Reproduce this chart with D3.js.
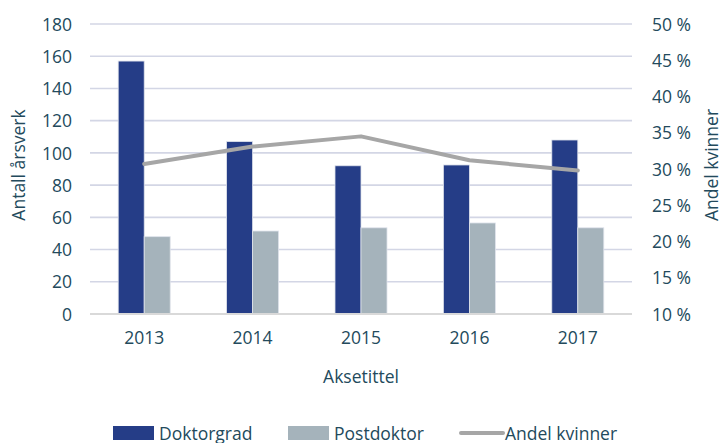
<!DOCTYPE html>
<html>
<head>
<meta charset="utf-8">
<script src="https://cdn.jsdelivr.net/npm/d3@7"></script>
<style>
  body { margin: 0; background: #fff; }
  text { font-family: "Open Sans", sans-serif; fill: #234a5c; }
</style>
</head>
<body>
<div id="chart"></div>
<script>
// data
let years = ["2013", "2014", "2015", "2016", "2017"];
let doktorgrad = [157, 107, 92, 92.5, 108];
let postdoktor = [48, 51.5, 53.5, 56.5, 53.5];
let andelKvinner = [30.7, 33.1, 34.5, 31.2, 29.8];
let leftTicks = [0, 20, 40, 60, 80, 100, 120, 140, 160, 180];
let rightTicks = [10, 15, 20, 25, 30, 35, 40, 45, 50];

let w = 722;
let h = 443;
let padL = 90, padR = 632, padT = 24, padB = 314;

let svg = d3.select("#chart")
  .append("svg")
  .attr("width", w)
  .attr("height", h);

let x = d3.scaleBand().domain(years).range([padL, padR]);
let y = d3.scaleLinear().domain([0, 180]).range([padB, padT]);
let y2 = d3.scaleLinear().domain([10, 50]).range([padB, padT]);

// gridlines
svg.append("g")
  .selectAll("line")
  .data(leftTicks.filter(d => d > 0))
  .join("line")
    .attr("x1", padL)
    .attr("x2", padR)
    .attr("y1", d => y(d))
    .attr("y2", d => y(d))
    .style("stroke", "#d3d6e5")
    .style("stroke-width", 1.6);

// left axis
let yAxis = svg.append("g")
  .attr("transform", `translate(${padL},0)`)
  .call(d3.axisLeft(y).tickValues(leftTicks).tickSize(0).tickPadding(18));
yAxis.select(".domain").remove();
yAxis.selectAll("text").style("font-size", "17.5px").attr("dy", "0.35em");

// right axis
let y2Axis = svg.append("g")
  .attr("transform", `translate(${padR},0)`)
  .call(d3.axisRight(y2).tickValues(rightTicks).tickSize(0).tickPadding(20).tickFormat(d => d + " %"));
y2Axis.select(".domain").remove();
y2Axis.selectAll("text").style("font-size", "17.5px").attr("dy", "0.35em");

// bars
let bw = 26;
svg.append("g")
  .selectAll("rect")
  .data(years)
  .join("rect")
    .attr("x", d => x(d) + x.bandwidth() / 2 - bw)
    .attr("y", (d, i) => y(doktorgrad[i]))
    .attr("width", bw)
    .attr("height", (d, i) => y(0) - y(doktorgrad[i]))
    .style("fill", "#253d87")
    .style("stroke", "#dfe3ec")
    .style("stroke-width", 0.8);

svg.append("g")
  .selectAll("rect")
  .data(years)
  .join("rect")
    .attr("x", d => x(d) + x.bandwidth() / 2)
    .attr("y", (d, i) => y(postdoktor[i]))
    .attr("width", bw)
    .attr("height", (d, i) => y(0) - y(postdoktor[i]))
    .style("fill", "#a5b3bb")
    .style("stroke", "#dfe3ec")
    .style("stroke-width", 0.8);

// baseline
svg.append("line")
  .attr("x1", padL)
  .attr("x2", padR)
  .attr("y1", y(0))
  .attr("y2", y(0))
  .style("stroke", "#d9d9d9")
  .style("stroke-width", 2);

// x axis labels
let xAxis = svg.append("g")
  .attr("transform", `translate(0,${padB})`)
  .call(d3.axisBottom(x).tickSize(0).tickPadding(18));
xAxis.select(".domain").remove();
xAxis.selectAll("text").style("font-size", "17.5px");

// line
let line = d3.line()
  .x((d, i) => x(years[i]) + x.bandwidth() / 2)
  .y(d => y2(d));

svg.append("path")
  .datum(andelKvinner)
  .attr("d", line)
  .style("fill", "none")
  .style("stroke", "#a6a6a6")
  .style("stroke-width", 4)
  .style("stroke-linecap", "round")
  .style("stroke-linejoin", "round");

// axis titles
svg.append("text")
  .text("Aksetittel")
  .attr("x", (padL + padR) / 2)
  .attr("y", 383)
  .attr("text-anchor", "middle")
  .style("font-size", "17.5px");

svg.append("text")
  .text("Antall årsverk")
  .attr("transform", `translate(25,${(padT + padB) / 2 - 4}) rotate(-90)`)
  .attr("text-anchor", "middle")
  .style("font-size", "17.5px");

svg.append("text")
  .text("Andel kvinner")
  .attr("transform", `translate(718,${(padT + padB) / 2 - 4}) rotate(-90)`)
  .attr("text-anchor", "middle")
  .style("font-size", "17.5px");

// legend
let legend = [
  { name: "Doktorgrad", color: "#253d87", type: "rect", x: 113 },
  { name: "Postdoktor", color: "#a5b3bb", type: "rect", x: 288 },
  { name: "Andel kvinner", color: "#a6a6a6", type: "line", x: 459 }
];
let lg = svg.append("g");
legend.forEach(d => {
  if (d.type == "rect") {
    lg.append("rect")
      .attr("x", d.x)
      .attr("y", 426)
      .attr("width", 41)
      .attr("height", 14)
      .style("fill", d.color);
  } else {
    lg.append("line")
      .attr("x1", d.x + 2)
      .attr("x2", d.x + 44)
      .attr("y1", 433)
      .attr("y2", 433)
      .style("stroke", d.color)
      .style("stroke-width", 4)
      .style("stroke-linecap", "round");
  }
  lg.append("text")
    .text(d.name)
    .attr("x", d.x + 46)
    .attr("y", 440)
    .style("font-size", "17.5px");
});
</script>
</body>
</html>
